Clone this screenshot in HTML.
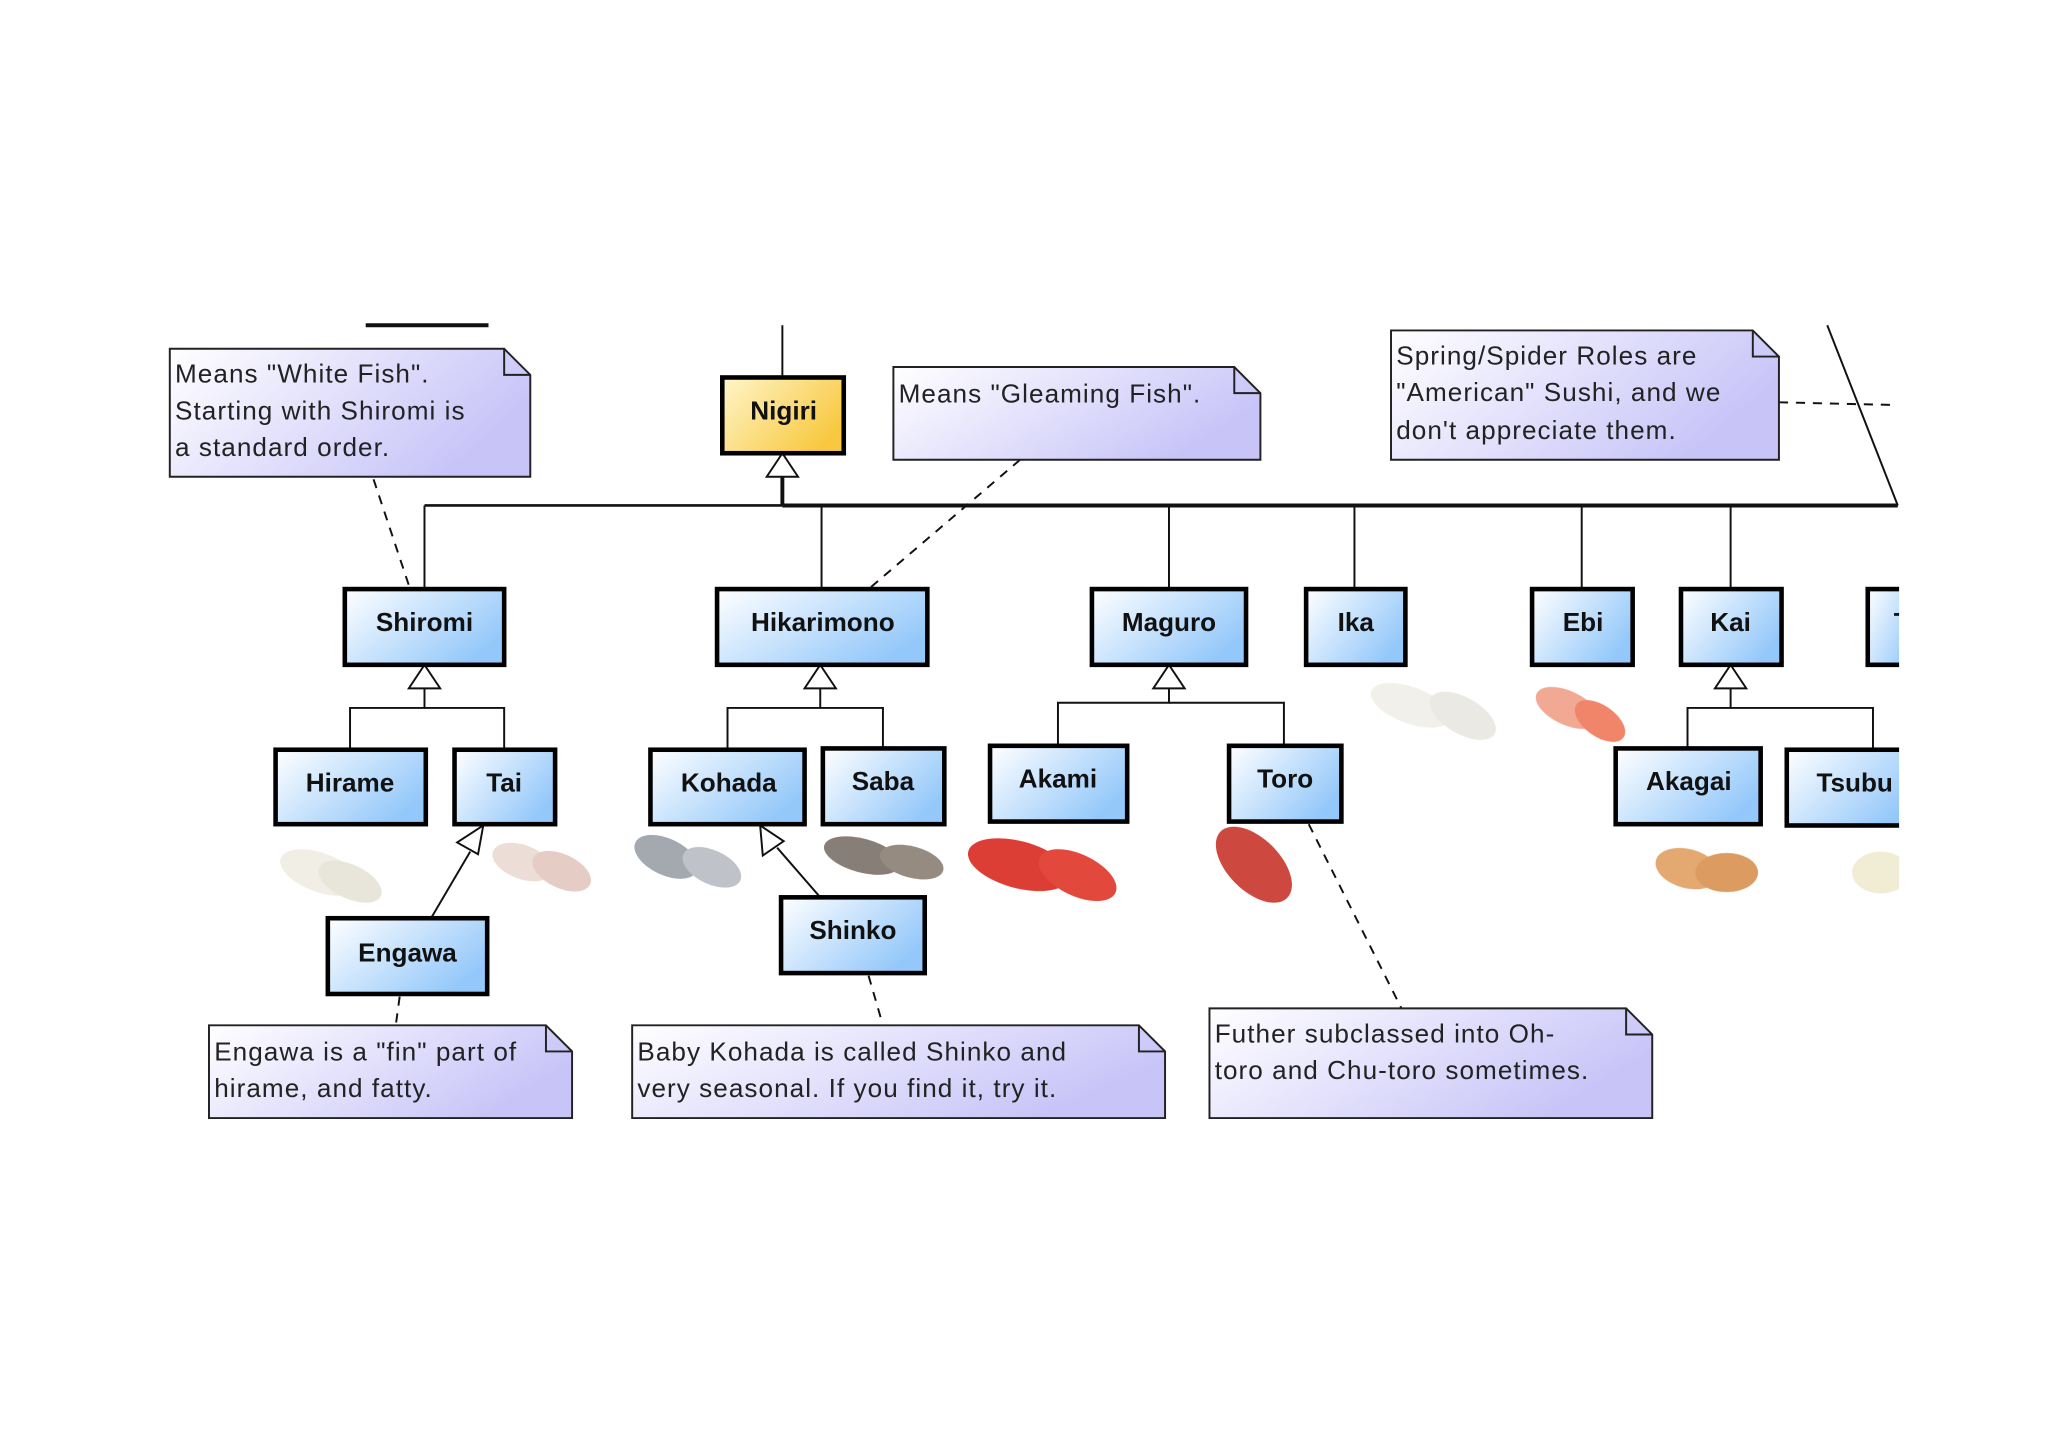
<!DOCTYPE html>
<html><head><meta charset="utf-8"><style>
html,body{margin:0;padding:0;background:#fff;}
svg{display:block;}
text{font-family:"Liberation Sans",Arial,sans-serif;}
.n{font-size:20px;fill:#222;letter-spacing:0.8px;}
.c{font-size:20px;font-weight:bold;fill:#111;text-anchor:middle;}
</style></head><body>
<svg width="2048" height="1448" viewBox="0 0 1568 1108.6" preserveAspectRatio="none" xmlns="http://www.w3.org/2000/svg">
<defs>
<linearGradient id="ng" x1="0" y1="0" x2="1" y2="0.4"><stop offset="0" stop-color="#ffffff"/><stop offset="1" stop-color="#c8c4f8"/></linearGradient>
<linearGradient id="cg" x1="0" y1="0" x2="1" y2="0.6"><stop offset="0" stop-color="#ffffff"/><stop offset="1" stop-color="#94c8fa"/></linearGradient>
<linearGradient id="yg" x1="0" y1="0" x2="1" y2="0.6"><stop offset="0" stop-color="#fff6cc"/><stop offset="1" stop-color="#f8c840"/></linearGradient>
</defs>
<rect width="1568" height="1110" fill="#fff"/>
<g stroke="#111" fill="none">
<line x1="280" y1="249" x2="374" y2="249" stroke-width="3"/>
<line x1="599" y1="249" x2="599" y2="289" stroke-width="1.5"/>
<line x1="599" y1="365" x2="599" y2="387" stroke-width="3"/>
<line x1="599" y1="387" x2="1453" y2="387" stroke-width="3"/>
<line x1="325" y1="387" x2="599" y2="387" stroke-width="2"/>
<line x1="1399" y1="249" x2="1453" y2="387" stroke-width="1.5"/>
<g stroke-width="1.5">
<line x1="325" y1="387" x2="325" y2="451"/><line x1="629" y1="387" x2="629" y2="451"/>
<line x1="895" y1="387" x2="895" y2="451"/><line x1="1037" y1="387" x2="1037" y2="451"/>
<line x1="1211" y1="387" x2="1211" y2="451"/><line x1="1325" y1="387" x2="1325" y2="451"/>
<polyline points="325,527 325,542 268,542 268,574"/><polyline points="325,542 386,542 386,574"/>
<polyline points="628,527 628,542 557,542 557,574"/><polyline points="628,542 676,542 676,573"/>
<polyline points="895,527 895,538 810,538 810,571"/><polyline points="895,538 983,538 983,571"/>
<polyline points="1325,527 1325,542 1292,542 1292,573"/><polyline points="1325,542 1434,542 1434,574"/>
<line x1="330" y1="703" x2="360" y2="652"/>
<line x1="628" y1="687" x2="595" y2="649"/>
</g>
<g stroke-width="1.5" fill="#fff">
<polygon points="599,347 587,365 611,365"/>
<polygon points="325,509 313,527 337,527"/>
<polygon points="628,509 616,527 640,527"/>
<polygon points="895,509 883,527 907,527"/>
<polygon points="1325,509 1313,527 1337,527"/>
<polygon points="370,632 350,645 366,654"/>
<polygon points="582,632 584,655 600,644"/>
</g>
<g stroke-width="1.5" stroke-dasharray="7,6">
<line x1="286" y1="367" x2="313" y2="448"/>
<line x1="781" y1="352" x2="665" y2="451"/>
<line x1="1362" y1="308" x2="1448" y2="310"/>
<line x1="1002" y1="631" x2="1073" y2="772"/>
<line x1="306" y1="763" x2="303" y2="785"/>
<line x1="665" y1="747" x2="676" y2="785"/>
</g>
</g>
<g stroke="#222" stroke-width="1.5" fill="url(#ng)">
<polygon points="130,267 386,267 406,287 406,365 130,365"/>
<polygon points="684,281 945,281 965,301 965,352 684,352"/>
<polygon points="1065,253 1342,253 1362,273 1362,352 1065,352"/>
<polygon points="160,785 418,785 438,805 438,856 160,856"/>
<polygon points="484,785 872,785 892,805 892,856 484,856"/>
<polygon points="926,772 1245,772 1265,792 1265,856 926,856"/>
</g>
<g stroke="#222" stroke-width="1.5" fill="none">
<polyline points="386,267 386,287 406,287"/><polyline points="945,281 945,301 965,301"/>
<polyline points="1342,253 1342,273 1362,273"/><polyline points="418,785 418,805 438,805"/>
<polyline points="872,785 872,805 892,805"/><polyline points="1245,772 1245,792 1265,792"/>
</g>
<text class="n" x="134" y="293">Means "White Fish".</text>
<text class="n" x="134" y="321">Starting with Shiromi is</text>
<text class="n" x="134" y="349">a standard order.</text>
<text class="n" x="688" y="308">Means "Gleaming Fish".</text>
<text class="n" x="1069" y="279">Spring/Spider Roles are</text>
<text class="n" x="1069" y="307">"American" Sushi, and we</text>
<text class="n" x="1069" y="336">don't appreciate them.</text>
<text class="n" x="164" y="812">Engawa is a "fin" part of</text>
<text class="n" x="164" y="840">hirame, and fatty.</text>
<text class="n" x="488" y="812">Baby Kohada is called Shinko and</text>
<text class="n" x="488" y="840">very seasonal. If you find it, try it.</text>
<text class="n" x="930" y="798">Futher subclassed into Oh-</text>
<text class="n" x="930" y="826">toro and Chu-toro sometimes.</text>
<g opacity="0.9">
<ellipse cx="245" cy="668" rx="32" ry="15" fill="#f0ede4" transform="rotate(20 245 668)"/><ellipse cx="268" cy="675" rx="26" ry="13" fill="#e6e2d6" transform="rotate(25 268 675)"/>
<ellipse cx="400" cy="660" rx="24" ry="13" fill="#eadad2" transform="rotate(20 400 660)"/><ellipse cx="430" cy="667" rx="24" ry="13" fill="#e2c8c0" transform="rotate(25 430 667)"/>
<ellipse cx="510" cy="656" rx="26" ry="14" fill="#9aa0a8" transform="rotate(25 510 656)"/><ellipse cx="545" cy="664" rx="24" ry="13" fill="#b8bcc2" transform="rotate(25 545 664)"/>
<ellipse cx="660" cy="655" rx="30" ry="13" fill="#7a7068" transform="rotate(15 660 655)"/><ellipse cx="698" cy="660" rx="25" ry="12" fill="#8a7e72" transform="rotate(15 698 660)"/>
<ellipse cx="780" cy="662" rx="40" ry="18" fill="#d8281e" transform="rotate(15 780 662)"/><ellipse cx="825" cy="670" rx="32" ry="16" fill="#e03428" transform="rotate(25 825 670)"/>
<ellipse cx="960" cy="662" rx="36" ry="20" fill="#c8352a" transform="rotate(45 960 662)"/>
<ellipse cx="1080" cy="540" rx="32" ry="14" fill="#f0efe8" transform="rotate(20 1080 540)"/><ellipse cx="1120" cy="548" rx="28" ry="14" fill="#e8e7e0" transform="rotate(30 1120 548)"/>
<ellipse cx="1200" cy="542" rx="26" ry="13" fill="#f0a088" transform="rotate(25 1200 542)"/><ellipse cx="1225" cy="552" rx="22" ry="12" fill="#f07858" transform="rotate(35 1225 552)"/>
<ellipse cx="1292" cy="665" rx="25" ry="15" fill="#e0a060" transform="rotate(15 1292 665)"/><ellipse cx="1322" cy="668" rx="24" ry="15" fill="#d89050"/>
<ellipse cx="1440" cy="668" rx="22" ry="16" fill="#f0ead0"/>
</g>
<g stroke="#000" stroke-width="3.5" fill="url(#cg)">
<rect x="264" y="451" width="122" height="58"/><rect x="549" y="451" width="161" height="58"/>
<rect x="836" y="451" width="118" height="58"/><rect x="1000" y="451" width="76" height="58"/>
<rect x="1173" y="451" width="77" height="58"/><rect x="1287" y="451" width="77" height="58"/>
<rect x="1430" y="451" width="40" height="58"/>
<rect x="211" y="574" width="115" height="57"/><rect x="348" y="574" width="77" height="57"/>
<rect x="498" y="574" width="118" height="57"/><rect x="630" y="573" width="93" height="58"/>
<rect x="758" y="571" width="105" height="58"/><rect x="941" y="571" width="86" height="58"/>
<rect x="1237" y="573" width="111" height="58"/><rect x="1368" y="574" width="100" height="58"/>
<rect x="251" y="703" width="122" height="58"/><rect x="598" y="687" width="110" height="58"/>
<rect x="553" y="289" width="93" height="58" fill="url(#yg)"/>
</g>
<text class="c" x="600" y="321">Nigiri</text>
<text class="c" x="325" y="483">Shiromi</text><text class="c" x="630" y="483">Hikarimono</text>
<text class="c" x="895" y="483">Maguro</text><text class="c" x="1038" y="483">Ika</text>
<text class="c" x="1212" y="483">Ebi</text><text class="c" x="1325" y="483">Kai</text>
<text class="c" x="1456" y="483">T</text>
<text class="c" x="268" y="606">Hirame</text><text class="c" x="386" y="606">Tai</text>
<text class="c" x="558" y="606">Kohada</text><text class="c" x="676" y="605">Saba</text>
<text class="c" x="810" y="603">Akami</text><text class="c" x="984" y="603">Toro</text>
<text class="c" x="1293" y="605">Akagai</text><text class="c" x="1420" y="606">Tsubu</text>
<text class="c" x="312" y="736">Engawa</text><text class="c" x="653" y="719">Shinko</text>
<rect x="1454" y="240" width="120" height="520" fill="#fff"/>
</svg>
</body></html>
